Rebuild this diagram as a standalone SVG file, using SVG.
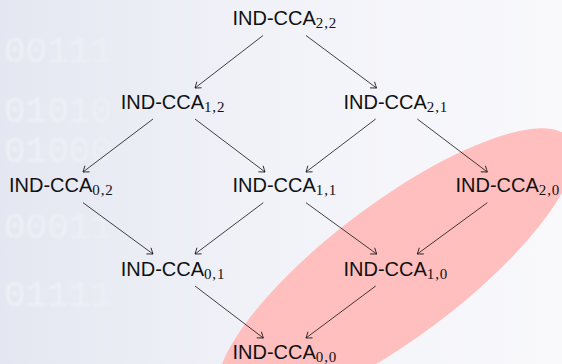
<svg xmlns="http://www.w3.org/2000/svg" width="562" height="364" viewBox="0 0 562 364">
  <defs>
    <linearGradient id="bg" x1="0" y1="0" x2="562" y2="0" gradientUnits="userSpaceOnUse">
      <stop offset="0" stop-color="#e4e7f1"/>
      <stop offset="0.45" stop-color="#f1f2f8"/>
      <stop offset="1" stop-color="#f9f9fc"/>
    </linearGradient>
    <linearGradient id="digitFade" x1="0" y1="0" x2="125" y2="0" gradientUnits="userSpaceOnUse">
      <stop offset="0" stop-color="#ffffff" stop-opacity="0.4"/>
      <stop offset="1" stop-color="#ffffff" stop-opacity="0.12"/>
    </linearGradient>
    <filter id="soft" x="-10%" y="-20%" width="120%" height="140%">
      <feGaussianBlur stdDeviation="0.8"/>
    </filter>
    <marker id="tip" viewBox="-6 -5 7 10" markerWidth="7" markerHeight="10" refX="0" refY="0" orient="auto" markerUnits="userSpaceOnUse">
      <path d="M -5,-3.6 Q -1.2,-0.9 0,0 Q -1.2,0.9 -5,3.6" fill="none" stroke="#111" stroke-width="0.8" stroke-linecap="round"/>
    </marker>
  </defs>
  <style>
    .lbl { font-family: "Liberation Sans", Arial, sans-serif; font-size: 20px; fill: #111; }
    .sub { font-family: "Liberation Serif", "Times New Roman", serif; font-size: 15px; letter-spacing: 0.8px; }
    .edge { stroke: #111; stroke-width: 0.8; fill: none; marker-end: url(#tip); }
    .bits { font-family: "Liberation Mono", monospace; font-size: 36px; fill: url(#digitFade); }
  </style>

  <!-- backdrop -->
  <rect width="562" height="364" fill="url(#bg)"/>
  <g id="backdrop-bits" filter="url(#soft)">
    <text class="bits" x="4" y="62">00111</text>
    <text class="bits" x="4" y="122">01010</text>
    <text class="bits" x="4" y="162">01000</text>
    <text class="bits" x="4" y="238">00011</text>
    <text class="bits" x="4" y="306">01111</text>
  </g>

  <!-- highlighted diagonal -->
  <ellipse id="highlight" cx="396" cy="270" rx="218" ry="67" transform="rotate(-37 396 270)" fill="#ffbfbf"/>

  <!-- connectors -->
  <g id="edges">
    <line class="edge" x1="263" y1="35.5" x2="195" y2="88"/>
    <line class="edge" x1="306" y1="35.5" x2="376.5" y2="88"/>
    <line class="edge" x1="153" y1="119" x2="83" y2="172"/>
    <line class="edge" x1="195" y1="119" x2="265" y2="172"/>
    <line class="edge" x1="375.7" y1="119" x2="306" y2="172"/>
    <line class="edge" x1="417.3" y1="119" x2="487.3" y2="172"/>
    <line class="edge" x1="83" y1="202.7" x2="153" y2="254"/>
    <line class="edge" x1="263.3" y1="202.7" x2="195" y2="254"/>
    <line class="edge" x1="306" y1="202.7" x2="376.7" y2="254"/>
    <line class="edge" x1="487.3" y1="202.7" x2="417.3" y2="254"/>
    <line class="edge" x1="195" y1="286" x2="263.3" y2="338"/>
    <line class="edge" x1="375.7" y1="286" x2="306" y2="338"/>
  </g>

  <!-- nodes -->
  <g id="n22"><text class="lbl" x="232.5" y="25">IND-CCA<tspan class="sub" dy="3">2,2</tspan></text></g>
  <g id="n12"><text class="lbl" x="120.7" y="108.5">IND-CCA<tspan class="sub" dy="3">1,2</tspan></text></g>
  <g id="n21"><text class="lbl" x="343.5" y="108.5">IND-CCA<tspan class="sub" dy="3">2,1</tspan></text></g>
  <g id="n02"><text class="lbl" x="9" y="192">IND-CCA<tspan class="sub" dy="3">0,2</tspan></text></g>
  <g id="n11"><text class="lbl" x="232.5" y="192">IND-CCA<tspan class="sub" dy="3">1,1</tspan></text></g>
  <g id="n20"><text class="lbl" x="455.5" y="192">IND-CCA<tspan class="sub" dy="3">2,0</tspan></text></g>
  <g id="n01"><text class="lbl" x="120.7" y="275.5">IND-CCA<tspan class="sub" dy="3">0,1</tspan></text></g>
  <g id="n10"><text class="lbl" x="343.5" y="275.5">IND-CCA<tspan class="sub" dy="3">1,0</tspan></text></g>
  <g id="n00"><text class="lbl" x="232.5" y="359">IND-CCA<tspan class="sub" dy="3">0,0</tspan></text></g>
</svg>
